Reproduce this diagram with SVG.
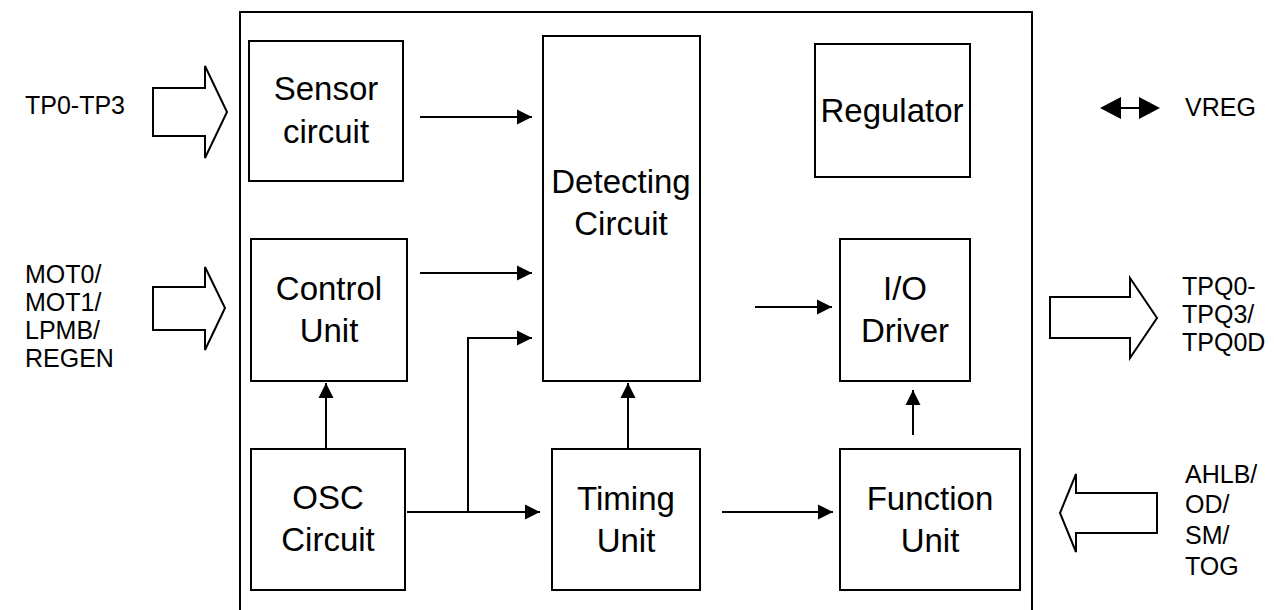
<svg xmlns="http://www.w3.org/2000/svg" width="1274" height="610" viewBox="0 0 1274 610">
  <style>
    .box { fill: #fff; stroke: #000; stroke-width: 2; }
    .big { fill: #fff; stroke: #000; stroke-width: 2; stroke-linejoin: miter; }
    .wire { fill: none; stroke: #000; stroke-width: 2; }
    .head { fill: #000; stroke: none; }
    .lbl { font-family: "Liberation Sans", Arial, sans-serif; font-size: 33px; fill: #000; text-anchor: middle; }
    .pin { font-family: "Liberation Sans", Arial, sans-serif; font-size: 25px; fill: #000; }
  </style>
  <defs>
    <marker id="ah" markerUnits="userSpaceOnUse" markerWidth="16" markerHeight="16" viewBox="0 0 16 16" refX="15" refY="8" orient="auto">
      <path d="M0,0.5 L15,8 L0,15.5 Z" fill="#000"/>
    </marker>
  </defs>

  <!-- chip outline -->
  <rect id="chip" x="240" y="12" width="792" height="610" fill="#fff" stroke="#000" stroke-width="2"/>

  <g id="sensor">
    <rect class="box" x="249" y="41" width="154" height="140"/>
    <text class="lbl" x="326" y="100">Sensor</text>
    <text class="lbl" x="326" y="143">circuit</text>
  </g>
  <g id="control">
    <rect class="box" x="251" y="239" width="156" height="142"/>
    <text class="lbl" x="329" y="300">Control</text>
    <text class="lbl" x="329" y="342">Unit</text>
  </g>
  <g id="osc">
    <rect class="box" x="251" y="449" width="154" height="141"/>
    <text class="lbl" x="328" y="509">OSC</text>
    <text class="lbl" x="328" y="551">Circuit</text>
  </g>
  <g id="detecting">
    <rect class="box" x="543" y="36" width="157" height="345"/>
    <text class="lbl" x="621" y="193">Detecting</text>
    <text class="lbl" x="621" y="235">Circuit</text>
  </g>
  <g id="timing">
    <rect class="box" x="552" y="449" width="148" height="141"/>
    <text class="lbl" x="626" y="510">Timing</text>
    <text class="lbl" x="626" y="552">Unit</text>
  </g>
  <g id="regulator">
    <rect class="box" x="815" y="44" width="155" height="133"/>
    <text class="lbl" x="892" y="122">Regulator</text>
  </g>
  <g id="io-driver">
    <rect class="box" x="840" y="239" width="130" height="142"/>
    <text class="lbl" x="905" y="300">I/O</text>
    <text class="lbl" x="905" y="342">Driver</text>
  </g>
  <g id="function">
    <rect class="box" x="840" y="449" width="180" height="141"/>
    <text class="lbl" x="930" y="510">Function</text>
    <text class="lbl" x="930" y="552">Unit</text>
  </g>

  <!-- external pins -->
  <g id="pin-tp">
    <polygon class="big" points="153,88 205,88 205,66 227,112 205,158 205,136 153,136"/>
    <text class="pin" x="25" y="114">TP0-TP3</text>
  </g>
  <g id="pin-mot">
    <polygon class="big" points="153,287 205,287 205,267 225,308 205,350 205,330 153,330"/>
    <text class="pin" x="25" y="283">MOT0/</text>
    <text class="pin" x="25" y="311">MOT1/</text>
    <text class="pin" x="25" y="339">LPMB/</text>
    <text class="pin" x="25" y="367">REGEN</text>
  </g>
  <g id="pin-tpq">
    <polygon class="big" points="1050,297 1130,297 1130,278 1157,318 1130,358 1130,338 1050,338"/>
    <text class="pin" x="1182" y="295">TPQ0-</text>
    <text class="pin" x="1182" y="323">TPQ3/</text>
    <text class="pin" x="1182" y="351">TPQ0D</text>
  </g>
  <g id="pin-ahlb">
    <polygon class="big" points="1157,493 1076,493 1076,474 1060,513 1076,552 1076,533 1157,533"/>
    <text class="pin" x="1185" y="483">AHLB/</text>
    <text class="pin" x="1185" y="513">OD/</text>
    <text class="pin" x="1185" y="544">SM/</text>
    <text class="pin" x="1185" y="575">TOG</text>
  </g>
  <g id="pin-vreg">
    <text class="pin" x="1185" y="116">VREG</text>
  </g>

  <g id="connectors">
    <path class="wire" d="M420,117 H532" marker-end="url(#ah)"/>
    <path class="wire" d="M420,273 H532" marker-end="url(#ah)"/>
    <path class="wire" d="M407,512 H540" marker-end="url(#ah)"/>
    <path class="wire" d="M468,512 V338 H532" marker-end="url(#ah)"/>
    <path class="wire" d="M326,449 V383" marker-end="url(#ah)"/>
    <path class="wire" d="M628,449 V383" marker-end="url(#ah)"/>
    <path class="wire" d="M755,307 H832" marker-end="url(#ah)"/>
    <path class="wire" d="M722,512 H833" marker-end="url(#ah)"/>
    <path class="wire" d="M913,435 V390" marker-end="url(#ah)"/>
    <!-- bidirectional VREG link -->
    <path class="wire" d="M1110,108 H1150"/>
    <polygon class="head" points="1100,108 1121,97 1121,119"/>
    <polygon class="head" points="1160,108 1139,97 1139,119"/>
  </g>
</svg>
